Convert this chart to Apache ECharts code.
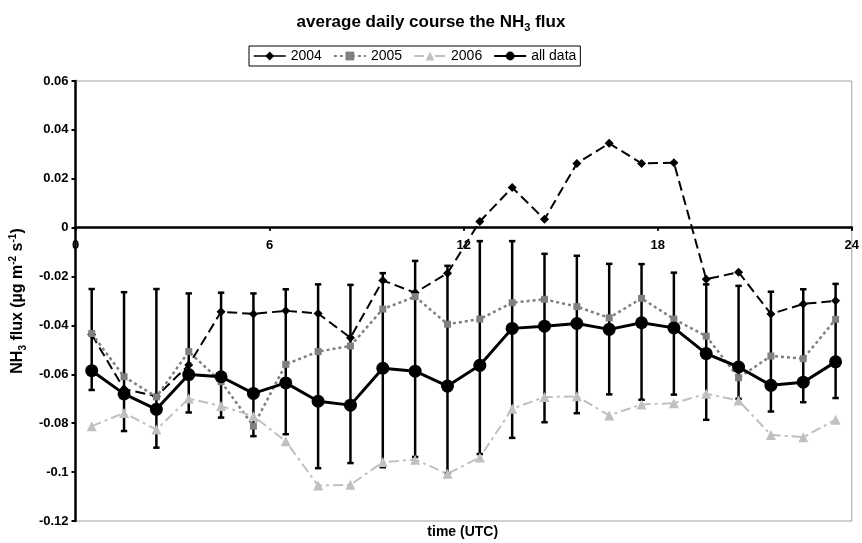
<!DOCTYPE html>
<html><head><meta charset="utf-8">
<script src="https://cdn.jsdelivr.net/npm/echarts@6/dist/echarts.min.js"></script>
<style>html,body{margin:0;padding:0;background:#fff}#c{width:862px;height:543px}</style>
</head><body><div id="c"></div>
<script>
// hour of day (bin centres)
const hours = [0.5,1.5,2.5,3.5,4.5,5.5,6.5,7.5,8.5,9.5,10.5,11.5,12.5,13.5,14.5,15.5,16.5,17.5,18.5,19.5,20.5,21.5,22.5,23.5];
const xTicks = [0,6,12,18,24];
const allData = [-0.0585,-0.068,-0.0743,-0.0601,-0.061,-0.0678,-0.0635,-0.071,-0.0726,-0.0575,-0.0587,-0.0648,-0.0563,-0.0412,-0.0403,-0.0392,-0.0416,-0.0389,-0.041,-0.0515,-0.057,-0.0645,-0.0632,-0.0549];
const errHigh = [-0.0251,-0.0264,-0.0251,-0.0269,-0.0266,-0.0269,-0.0252,-0.0232,-0.0234,-0.0186,-0.0136,-0.0156,-0.0055,-0.0055,-0.0107,-0.0115,-0.0148,-0.0149,-0.0184,-0.0232,-0.0238,-0.0262,-0.0252,-0.023];
const errLow = [-0.0664,-0.0832,-0.090,-0.0756,-0.0777,-0.0853,-0.0845,-0.0984,-0.0963,-0.098,-0.0938,-0.1004,-0.0926,-0.086,-0.0796,-0.0759,-0.0682,-0.0704,-0.0683,-0.0786,-0.070,-0.0752,-0.0714,-0.0697];
const y2004 = [-0.0437,-0.066,-0.069,-0.0562,-0.0344,-0.0353,-0.034,-0.0351,-0.045,-0.0216,-0.0266,-0.0186,0.0025,0.0164,0.0034,0.0263,0.0345,0.0263,0.0266,-0.0211,-0.0182,-0.0353,-0.0312,-0.0299];
const y2005 = [-0.0433,-0.061,-0.0692,-0.0507,-0.063,-0.0812,-0.0559,-0.0507,-0.0484,-0.0333,-0.0282,-0.0395,-0.0374,-0.0307,-0.0293,-0.0323,-0.0369,-0.0289,-0.0374,-0.0444,-0.0614,-0.0525,-0.0536,-0.0375];
const y2006 = [-0.0812,-0.0758,-0.0826,-0.0699,-0.073,-0.0771,-0.0874,-0.1055,-0.1052,-0.0959,-0.0949,-0.1007,-0.094,-0.0741,-0.0693,-0.069,-0.0768,-0.0723,-0.0718,-0.0679,-0.0707,-0.0848,-0.0857,-0.0786];
const yMin = -0.12, yMax = 0.06;

const FONT = "'Liberation Sans', Arial, sans-serif";
const pair = arr => hours.map((h,i)=>[h, arr[i]]);

const W = 862, H = 543;
const G = {left:73, right:9.5, top:81, bottom:22};
const gridH = H - G.top - G.bottom;
const zeroOffset = -gridH * (0 - yMin) / (yMax - yMin);
const plotCx = G.left + (W - G.left - G.right) / 2;

const chart = echarts.init(document.getElementById('c'), null, {renderer:'canvas'});
chart.setOption({
  animation:false,
  backgroundColor:'#fff',
  title:{
    text:'{a|average daily course the NH}{s|3}{a| flux}',
    left:'center', top:7,
    textStyle:{rich:{
      a:{fontFamily:FONT,fontSize:17,fontWeight:'bold',color:'#000',lineHeight:21},
      s:{fontFamily:FONT,fontSize:11,fontWeight:'bold',color:'#000',lineHeight:11,verticalAlign:'bottom'}
    }}
  },
  legend:{
    data:[{name:'2004',lineStyle:{type:'solid',width:1.5}},'2005','2006','all data'],
    left:249, top:46,
    padding:[3,4], itemGap:11, itemWidth:32, itemHeight:11,
    borderColor:'#000', borderWidth:1, backgroundColor:'#fff',
    textStyle:{fontFamily:FONT,fontSize:14,color:'#000'}
  },
  grid:{left:G.left,right:G.right,top:G.top,bottom:G.bottom,show:true,borderColor:'#a0a0a0',borderWidth:1,backgroundColor:'#fff'},
  xAxis:{
    type:'value', min:0, max:24, interval:6, position:'bottom', offset:zeroOffset,
    axisLine:{onZero:false,lineStyle:{color:'#000',width:2.5}},
    axisTick:{show:true,length:3,lineStyle:{color:'#000',width:2}},
    axisLabel:{margin:11,fontFamily:FONT,fontSize:13,fontWeight:'bold',color:'#000',
      formatter:v=> xTicks.indexOf(v)>=0 ? String(v) : ''},
    splitLine:{show:false}
  },
  yAxis:{
    type:'value', min:yMin, max:yMax, interval:0.02,
    name:'{a|NH}{s|3}{a| flux (µg m}{p|-2}{a| s}{p|-1}{a|)}',
    nameLocation:'middle', nameRotate:90, nameGap:45,
    nameTextStyle:{rich:{
      a:{fontFamily:FONT,fontSize:16,fontWeight:'bold',color:'#000',lineHeight:20},
      s:{fontFamily:FONT,fontSize:10,fontWeight:'bold',color:'#000',lineHeight:10,verticalAlign:'bottom'},
      p:{fontFamily:FONT,fontSize:10,fontWeight:'bold',color:'#000',lineHeight:10,verticalAlign:'top'}
    }},
    axisLine:{show:true,lineStyle:{color:'#000',width:2.5}},
    axisTick:{show:true,length:4,lineStyle:{color:'#000',width:2}},
    axisLabel:{margin:7,fontFamily:FONT,fontSize:13,fontWeight:'bold',color:'#000',
      formatter:v=>String(Math.round(v*100)/100)},
    splitLine:{show:false}
  },
  graphic:[{type:'text',x:plotCx,y:525,style:{text:'time (UTC)',textAlign:'center',font:"bold 14px 'Liberation Sans', Arial, sans-serif",fill:'#000'}}],
  series:[
    {
      name:'err', type:'custom',
      data: hours.map((h,i)=>[h, errLow[i], errHigh[i]]),
      renderItem:function(params, api){
        const x = api.value(0);
        const pl = api.coord([x, api.value(1)]);
        const ph = api.coord([x, api.value(2)]);
        const w = 3.2;
        const st = {stroke:'#000', lineWidth:2.5};
        return {type:'group', children:[
          {type:'line', shape:{x1:pl[0],y1:pl[1],x2:ph[0],y2:ph[1]}, style:st},
          {type:'line', shape:{x1:pl[0]-w,y1:pl[1],x2:pl[0]+w,y2:pl[1]}, style:{stroke:'#000',lineWidth:2.5}},
          {type:'line', shape:{x1:ph[0]-w,y1:ph[1],x2:ph[0]+w,y2:ph[1]}, style:{stroke:'#000',lineWidth:2.5}}
        ]};
      },
      z:2
    },
    {
      name:'2004', type:'line', data:pair(y2004),
      symbol:'diamond', symbolSize:9,
      lineStyle:{color:'#000',width:2,type:[10,5]},
      itemStyle:{color:'#000'}
    },
    {
      name:'2005', type:'line', data:pair(y2005),
      symbol:'rect', symbolSize:7,
      lineStyle:{color:'#808080',width:2.5,type:[3,3]},
      itemStyle:{color:'#808080'}
    },
    {
      name:'2006', type:'line', data:pair(y2006),
      symbol:'triangle', symbolSize:10,
      lineStyle:{color:'#c0c0c0',width:2,type:[10,4,3,4]},
      itemStyle:{color:'#c0c0c0'}
    },
    {
      name:'all data', type:'line', data:pair(allData),
      symbol:'circle', symbolSize:13,
      lineStyle:{color:'#000',width:3},
      itemStyle:{color:'#000'}
    }
  ]
});
</script>
</body></html>
